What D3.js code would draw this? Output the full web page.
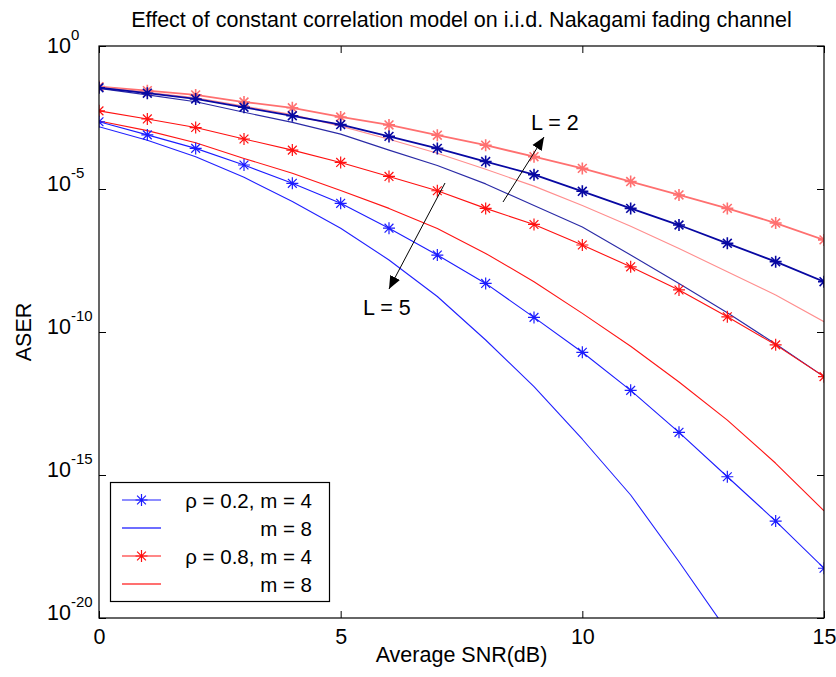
<!DOCTYPE html>
<html>
<head>
<meta charset="utf-8">
<script src="https://cdn.jsdelivr.net/npm/d3@7"></script>
<style>
  html, body { margin: 0; padding: 0; background: #fff; }
  text { font-family: "Liberation Sans", Arial, sans-serif; fill: #000; }
</style>
</head>
<body>
<svg id="chart" width="836" height="677"></svg>
<script>
// ---- data ----
const snr = [0,1,2,3,4,5,6,7,8,9,10,11,12,13,14,15];
const xTicks = [0, 5, 10, 15];
const yTickExps = [0, -5, -10, -15, -20];

// L = 2
const L2_r02_m4 = [3.47e-2,2.24e-2,1.41e-2,7.2e-3,3.63e-3,1.78e-3,6.9e-4,2.63e-4,9.1e-5,3.16e-5,8.3e-6,2.1e-6,5.5e-7,1.26e-7,2.88e-8,5.75e-9];
const L2_r02_m8 = [3.3e-2,1.95e-2,1.12e-2,4.8e-3,2.14e-3,8.3e-4,2.29e-4,6.6e-5,1.51e-5,2.63e-6,4.7e-7,4.9e-8,5.0e-9,4.7e-10,3.8e-11,2.75e-12];
const L2_r08_m4 = [3.8e-2,2.75e-2,1.95e-2,1.1e-2,6.9e-3,3.3e-3,1.74e-3,7.6e-4,3.4e-4,1.35e-4,5.25e-5,1.82e-5,6.2e-6,2.1e-6,6.45e-7,1.66e-7];
const L2_r08_m8 = [3.8e-2,2.4e-2,1.55e-2,7.9e-3,3.98e-3,1.58e-3,5.5e-4,1.78e-4,4.9e-5,1.26e-5,2.63e-6,5.0e-7,8.3e-8,1.29e-8,1.95e-9,2.29e-10];
// L = 5
const L5_r02_m4 = [2.24e-3,7.8e-4,2.63e-4,6.9e-5,1.58e-5,3.16e-6,4.27e-7,4.9e-8,5.0e-9,3.24e-10,1.95e-11,9.1e-13,3.1e-14,8.7e-16,2.45e-17,5.5e-19];
const L5_r02_m8 = [1.51e-3,5.1e-4,1.35e-4,2.57e-5,3.63e-6,4.27e-7,3.3e-8,1.74e-9,5.25e-11,1.23e-12,1.78e-14,2.0e-16,9.3e-19,3.47e-21];
const L5_r08_m4 = [5.4e-3,2.82e-3,1.41e-3,5.6e-4,2.29e-4,8.5e-5,2.75e-5,8.7e-6,2.1e-6,5.75e-7,1.1e-7,1.9e-8,2.95e-9,3.4e-10,3.55e-11,2.75e-12];
const L5_r08_m8 = [2.4e-3,1.1e-3,4.17e-4,1.17e-4,3.55e-5,8.9e-6,2.1e-6,4.17e-7,5.6e-8,5.75e-9,4.47e-10,3.16e-11,1.78e-12,8.3e-14,2.57e-15,5.6e-17];

const legendLabels = ["\u03c1 = 0.2, m = 4", "m = 8", "\u03c1 = 0.8, m = 4", "m = 8"];
const titleText = "Effect of constant correlation model on i.i.d. Nakagami fading channel";
const xLabel = "Average SNR(dB)";
const yLabel = "ASER";

// ---- styles ----
const series = [
  {v: L2_r08_m4, color: "#ff7070", w: 1.8, star: true},
  {v: L2_r08_m8, color: "#ff8e8e", w: 1.1, star: false},
  {v: L2_r02_m8, color: "#2a2aa6", w: 1.1, star: false},
  {v: L2_r02_m4, color: "#0808a2", w: 1.8, star: true},
  {v: L5_r08_m8, color: "#ff1414", w: 1.1, star: false},
  {v: L5_r02_m8, color: "#2020ff", w: 1.1, star: false},
  {v: L5_r08_m4, color: "#ff1010", w: 1.1, star: true},
  {v: L5_r02_m4, color: "#1c1cff", w: 1.1, star: true}
];

const FS = "21.5px";
const svg = d3.select("#chart");
const m = {left: 99, top: 46, right: 824, bottom: 618};
const x = d3.scaleLinear().domain([0, 15]).range([m.left, m.right]);
const y = d3.scaleLog().domain([1e-20, 1]).range([m.bottom, m.top]);

svg.append("defs").append("clipPath").attr("id", "clip")
  .append("rect").attr("x", m.left).attr("y", m.top)
  .attr("width", m.right - m.left).attr("height", m.bottom - m.top);

// title
svg.append("text").attr("x", (m.left + m.right) / 2).attr("y", 27)
  .attr("text-anchor", "middle").style("font-size", FS).text(titleText);

// axes (ticks on all sides, inward)
const tl = 7;
const axG = svg.append("g");
axG.append("g").attr("transform", `translate(0,${m.bottom})`)
  .call(d3.axisBottom(x).tickValues(xTicks).tickSize(-tl).tickFormat(d3.format("d")).tickPadding(11))
  .call(g => { g.select(".domain").remove(); g.selectAll("text").style("font-size", FS).attr("font-family", "Liberation Sans, Arial"); });
axG.append("g").attr("transform", `translate(0,${m.top})`)
  .call(d3.axisTop(x).tickValues(xTicks).tickSize(-tl).tickFormat(""))
  .call(g => g.select(".domain").remove());
axG.append("g").attr("transform", `translate(${m.left},0)`)
  .call(d3.axisLeft(y).tickValues(yTickExps.map(e => Math.pow(10, e))).tickSize(-tl).tickFormat(""))
  .call(g => g.select(".domain").remove());
axG.append("g").attr("transform", `translate(${m.right},0)`)
  .call(d3.axisRight(y).tickValues(yTickExps.map(e => Math.pow(10, e))).tickSize(-tl).tickFormat(""))
  .call(g => g.select(".domain").remove());
axG.selectAll(".tick line").attr("stroke", "#000").attr("stroke-width", 1);

// y tick labels 10^e
yTickExps.forEach(e => {
  const yy = Math.max(y(Math.pow(10, e)) + 1.5, 52.5);
  const t = svg.append("text").attr("x", 47).attr("y", yy).style("font-size", FS);
  t.append("tspan").text("10");
  t.append("tspan").attr("dy", -13).style("font-size", "15px").text(String(e));
});

// axis labels
svg.append("text").attr("x", (m.left + m.right) / 2).attr("y", 662)
  .attr("text-anchor", "middle").style("font-size", FS).text(xLabel);
svg.append("text").attr("transform", `translate(31,${(m.top + m.bottom) / 2}) rotate(-90)`)
  .attr("text-anchor", "middle").style("font-size", FS).text(yLabel);

// star marker path
function starPath(cx, cy) {
  const a = 6, b = 4.4;
  return `M${cx - a},${cy}L${cx + a},${cy}M${cx},${cy - a}L${cx},${cy + a}` +
         `M${cx - b},${cy - b}L${cx + b},${cy + b}M${cx - b},${cy + b}L${cx + b},${cy - b}`;
}

const plot = svg.append("g").attr("clip-path", "url(#clip)");
const line = d3.line().x((d, i) => x(snr[i])).y(d => y(d));
series.forEach(s => {
  plot.append("path").datum(s.v).attr("d", line)
    .attr("fill", "none").attr("stroke", s.color).attr("stroke-width", s.w)
    .attr("stroke-linejoin", "round");
  if (s.star) {
    plot.append("g").selectAll("path").data(s.v).join("path")
      .attr("d", (d, i) => starPath(x(snr[i]), y(d)))
      .attr("stroke", s.color).attr("stroke-width", s.w > 1.5 ? 1.6 : 1.2).attr("fill", "none");
  }
});

// plot frame
svg.append("rect").attr("x", m.left).attr("y", m.top)
  .attr("width", m.right - m.left).attr("height", m.bottom - m.top)
  .attr("fill", "none").attr("stroke", "#000").attr("stroke-width", 1.2);

// annotations with arrows
const defs = svg.select("defs");
defs.append("marker").attr("id", "arrow").attr("viewBox", "0 0 10 10")
  .attr("refX", 10).attr("refY", 5).attr("markerWidth", 13).attr("markerHeight", 13)
  .attr("markerUnits", "userSpaceOnUse").attr("orient", "auto")
  .append("path").attr("d", "M0,0.8L10,5L0,9.2Z").attr("fill", "#000");
svg.append("line").attr("x1", 503).attr("y1", 202).attr("x2", 544).attr("y2", 137)
  .attr("stroke", "#000").attr("stroke-width", 1).attr("marker-end", "url(#arrow)");
svg.append("line").attr("x1", 445).attr("y1", 183).attr("x2", 389).attr("y2", 289)
  .attr("stroke", "#000").attr("stroke-width", 1).attr("marker-end", "url(#arrow)");
svg.append("text").attr("x", 531).attr("y", 130).style("font-size", FS).text("L = 2");
svg.append("text").attr("x", 363).attr("y", 315).style("font-size", FS).text("L = 5");

// legend
const lg = svg.append("g");
lg.append("rect").attr("x", 110.5).attr("y", 482.5).attr("width", 219).attr("height", 119)
  .attr("fill", "#fff").attr("stroke", "#000").attr("stroke-width", 1.2);
const legendStyles = [
  {color: "#1c1cff", star: true},
  {color: "#6e6eff", star: false},
  {color: "#ff1010", star: true},
  {color: "#ff7070", star: false}
];
const rowY = [500, 528, 556, 584];
legendLabels.forEach((lab, i) => {
  const st = legendStyles[i];
  lg.append("line").attr("x1", 122).attr("x2", 161).attr("y1", rowY[i]).attr("y2", rowY[i])
    .attr("stroke", st.color).attr("stroke-width", st.star ? 1.2 : 1.8);
  if (st.star) lg.append("path").attr("d", starPath(141.5, rowY[i])).attr("stroke", st.color)
    .attr("stroke-width", 1.2).attr("fill", "none");
  lg.append("text").attr("x", 312).attr("y", rowY[i] + 7.5).attr("text-anchor", "end")
    .style("font-size", "20.5px").text(lab);
});
</script>
</body>
</html>
